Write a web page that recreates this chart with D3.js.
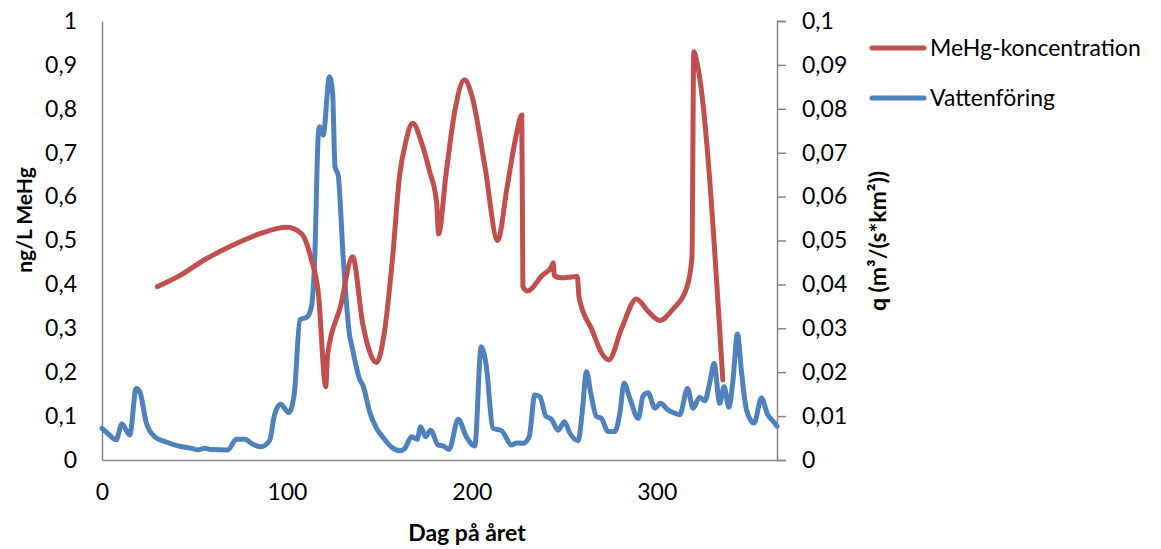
<!DOCTYPE html>
<html>
<head>
<meta charset="utf-8">
<script src="https://cdn.jsdelivr.net/npm/d3@7"></script>
<style>
  body { margin: 0; background: #fff; }
  svg text { font-family: Lato, "Open Sans", sans-serif; fill: #000; }
</style>
</head>
<body>
<svg id="chart" width="1161" height="549"></svg>
<script>
  // MeHg concentration (ng/L), [day, value]
  let mehg = [
    [30,0.395],[42,0.42],[55,0.455],[70,0.488],[85,0.515],[100,0.53],[108,0.515],
    [113,0.46],[117,0.38],[121,0.167],[122,0.24],[129,0.35],[135.5,0.463],[141,0.31],
    [148.5,0.222],[153,0.3],[157,0.455],[161,0.65],[164,0.72],[168,0.767],[173,0.72],
    [177,0.66],[181,0.585],[182,0.515],[186,0.65],[191,0.8],[196,0.866],[200,0.83],
    [207,0.67],[214,0.50],[219,0.62],[224,0.74],[227,0.786],[227.6,0.395],[230,0.385],
    [238,0.42],[243,0.44],[244,0.449],[244.6,0.42],[248,0.415],[257,0.418],[258,0.37],
    [265,0.296],[270,0.245],[274,0.228],[281,0.3],[289,0.367],[295,0.34],[301.6,0.318],
    [309,0.345],[316,0.39],[319,0.46],[320,0.93],[322,0.9],[335.7,0.182]
  ]

  // Vattenföring q (m3/(s*km2)), [day, value]
  let flow = [
    [0,0.0072],[3,0.0061],[7.6,0.0046],[10.8,0.0082],[15,0.0057],[18.5,0.0163],[20.4,0.0156],
    [24,0.0084],[28.5,0.0053],[34,0.0042],[41,0.0032],[48,0.0027],[52,0.0023],[55.5,0.0027],
    [59,0.0024],[68,0.0023],[72.6,0.0047],[77,0.0047],[81.6,0.0036],[86,0.003],[90.6,0.0044],
    [93.3,0.0103],[96.6,0.0127],[101,0.0108],[104,0.0152],[107,0.0319],[111,0.0326],
    [113.3,0.035],[115,0.0456],[117,0.0744],[117.8,0.0759],[119.6,0.074],[123,0.0873],
    [124.7,0.0836],[126,0.0668],[127.7,0.0649],[130.5,0.0456],[134,0.0281],[135,0.0262],
    [139.5,0.0182],[141,0.0171],[145,0.0106],[148.5,0.0072],[153,0.0046],[156.6,0.0029],
    [161,0.0021],[163.8,0.0027],[167.4,0.0053],[170.4,0.0047],[172.3,0.0076],[175,0.0053],
    [177.7,0.0068],[181.8,0.0034],[184.5,0.0032],[187.7,0.0024],[192.6,0.0093],[197,0.0053],
    [201.6,0.0032],[205,0.0258],[207.6,0.022],[211.5,0.0072],[216,0.0067],[221.5,0.0034],
    [224,0.0039],[227.7,0.0038],[231,0.0053],[234,0.0148],[236.8,0.0144],[240,0.01],
    [243,0.0093],[246.7,0.0068],[250,0.0087],[253,0.0061],[257.5,0.0044],[259.6,0.0106],
    [262,0.0201],[264.3,0.0152],[267.4,0.0099],[270,0.0095],[273.7,0.0065],[277.3,0.0065],
    [280,0.0106],[282.3,0.0175],[285.4,0.0141],[290,0.0095],[292.6,0.0146],[295.3,0.0153],
    [299,0.0118],[302,0.0129],[306,0.0114],[309,0.0108],[312.4,0.0103],[316.6,0.0163],
    [319.6,0.0118],[323.2,0.0143],[326,0.0135],[328.6,0.0175],[331,0.022],[334,0.0129],
    [336.4,0.0167],[339,0.012],[341.2,0.0182],[343.6,0.0287],[345.8,0.0201],[348.5,0.0114],
    [352.6,0.0084],[356.6,0.0141],[360,0.0103],[362.3,0.0091],[365,0.0077]
  ]

  let dayTicks = [0, 100, 200, 300]
  let leftTicks = [0, 0.1, 0.2, 0.3, 0.4, 0.5, 0.6, 0.7, 0.8, 0.9, 1]
  let rightTicks = [0, 0.01, 0.02, 0.03, 0.04, 0.05, 0.06, 0.07, 0.08, 0.09, 0.1]
  let series = ['MeHg-koncentration', 'Vattenföring']
  let colors = ['#C0504D', '#4F81BD']

  let svg = d3.select('#chart')
  let plotLeft = 102, plotRight = 777, plotTop = 21, plotBottom = 460
  let axisColor = '#868686'
  let fmt = v => String(v).replace('.', ',')

  let x = d3.scaleLinear().domain([0, 365]).range([plotLeft, plotRight])
  let yL = d3.scaleLinear().domain([0, 1]).range([plotBottom, plotTop])
  let yR = d3.scaleLinear().domain([0, 0.1]).range([plotBottom, plotTop])

  // left axis: line only
  let gL = svg.append('g').attr('transform', `translate(${plotLeft},0)`)
    .call(d3.axisLeft(yL).tickValues(leftTicks).tickFormat(fmt).tickSize(0).tickPadding(25))
  gL.select('.domain').attr('stroke', axisColor).attr('stroke-width', 1.5)
  gL.selectAll('text').style('font-size', '23px')

  // bottom axis
  let gB = svg.append('g').attr('transform', `translate(0,${plotBottom})`)
    .call(d3.axisBottom(x).tickValues(dayTicks).tickSize(0).tickPadding(24))
  gB.select('.domain').attr('stroke', axisColor).attr('stroke-width', 1.5)
  gB.selectAll('text').style('font-size', '23px')

  // right axis with outward ticks
  let gR = svg.append('g').attr('transform', `translate(${plotRight},0)`)
    .call(d3.axisRight(yR).tickValues(rightTicks).tickFormat(fmt).tickSizeOuter(0).tickSize(9).tickPadding(16))
  gR.select('.domain').attr('stroke', axisColor).attr('stroke-width', 1.5)
  gR.selectAll('line').attr('stroke', axisColor).attr('stroke-width', 1.5)
  gR.selectAll('text').style('font-size', '23px')

  // lines
  let lineL = d3.line().x(d => x(d[0])).y(d => yL(d[1])).curve(d3.curveMonotoneX)
  let lineR = d3.line().x(d => x(d[0])).y(d => yR(d[1])).curve(d3.curveMonotoneX)

  svg.append('path').datum(flow)
    .attr('d', lineR)
    .attr('fill', 'none').attr('stroke', colors[1]).attr('stroke-width', 5)
    .attr('stroke-linejoin', 'round').attr('stroke-linecap', 'round')

  svg.append('path').datum(mehg)
    .attr('d', lineL)
    .attr('fill', 'none').attr('stroke', colors[0]).attr('stroke-width', 5)
    .attr('stroke-linejoin', 'round').attr('stroke-linecap', 'round')

  // axis titles
  svg.append('text')
    .attr('transform', 'translate(32,220) rotate(-90)')
    .attr('text-anchor', 'middle')
    .style('font-size', '21px').style('font-weight', 'bold')
    .text('ng/L MeHg')

  svg.append('text')
    .attr('transform', 'translate(886,241) rotate(-90)')
    .attr('text-anchor', 'middle')
    .style('font-size', '23px').style('font-weight', 'bold')
    .text('q (m³/(s*km²))')

  svg.append('text')
    .attr('x', 467).attr('y', 541)
    .attr('text-anchor', 'middle')
    .style('font-size', '23px').style('font-weight', 'bold')
    .text('Dag på året')

  // legend
  let legend = svg.append('g')
  series.forEach((s, i) => {
    let yy = 48 + i * 50
    legend.append('line')
      .attr('x1', 872).attr('x2', 924).attr('y1', yy).attr('y2', yy)
      .attr('stroke', colors[i]).attr('stroke-width', 5).attr('stroke-linecap', 'round')
    legend.append('text')
      .attr('x', 930).attr('y', yy).attr('dy', '0.35em')
      .style('font-size', '23px')
      .text(s)
  })
</script>
</body>
</html>
